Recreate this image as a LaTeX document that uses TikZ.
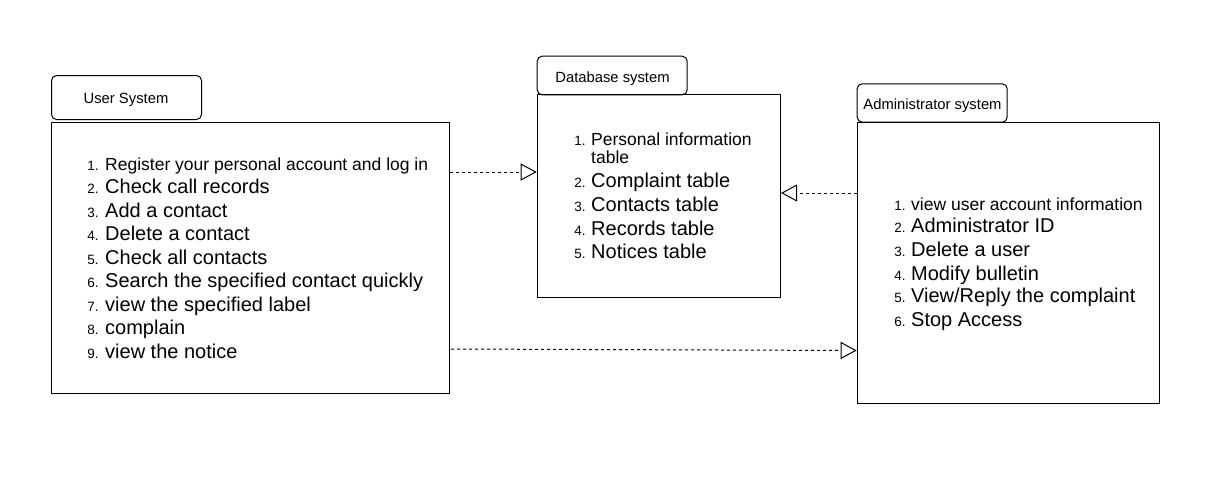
\documentclass[tikz,border=0pt]{standalone}
\usepackage{fontspec}
\setmainfont{Liberation Sans}
\usetikzlibrary{arrows.meta}
\begin{document}
\begin{tikzpicture}[x=1pt,y=-1pt,
 tab/.style={draw, rounded corners=5pt, line width=1pt, inner sep=0pt, anchor=north west},
 box/.style={draw, line width=1pt, inner sep=0pt, anchor=north west},
 ttl/.style={font=\fontsize{14.8}{17}\selectfont, inner sep=0pt, anchor=base},
 num/.style={font=\fontsize{13.5}{15}\selectfont, inner sep=0pt, anchor=base east},
 itm/.style={font=\fontsize{20}{23}\selectfont, inner sep=0pt, anchor=base west},
 itms/.style={font=\fontsize{17.5}{20}\selectfont, inner sep=0pt, anchor=base west},
 dep/.style={line width=1pt, dash pattern=on 3pt off 3pt, -{Triangle[open,length=16pt,width=17pt,line width=1pt]}}
]
\useasboundingbox (0,0) rectangle (1216,485);
\fill[white] (0,0) rectangle (1216,485);

% User system
\node[tab, minimum width=150pt, minimum height=44pt] (utab) at (51,75) {};
\node[box, minimum width=397.7pt, minimum height=271pt] (ubox) at (51,122.3) {};
\node[ttl] (utitle) at (126,103.3) {User System};
\foreach \n/\y/\s/\t in {1/170/itms/{Register your personal account and log in},
  2/193.5/itm/{Check call records}, 3/217/itm/{Add a contact}, 4/240.5/itm/{Delete a contact},
  5/264/itm/{Check all contacts}, 6/287.5/itm/{Search the specified contact quickly},
  7/311/itm/{view the specified label}, 8/334.5/itm/{complain}, 9/358/itm/{view the notice}}{
  \node[num] (un\n) at (98.8,\y) {\n.};
  \node[\s] (ut\n) at (105,\y) {\t};
}

% Database system
\node[tab, minimum width=150pt, minimum height=38.6pt] (dtab) at (536.7,55.7) {};
\node[box, minimum width=243.3pt, minimum height=203pt] (dbox) at (536.7,94.3) {};
\node[ttl] (dtitle) at (612.5,82.3) {Database system};
\node[num] (dn1) at (585.8,145) {1.};
\node[itms] (dt1) at (591,145) {Personal information};
\node[itms] (dt1b) at (591,163.3) {table};
\foreach \n/\y/\t in {2/187.3/{Complaint table}, 3/211.5/{Contacts table}, 4/235/{Records table}, 5/258.5/{Notices table}}{
  \node[num] (dn\n) at (585.8,\y) {\n.};
  \node[itm] (dt\n) at (591,\y) {\t};
}

% Administrator system
\node[tab, minimum width=150pt, minimum height=38.4pt] (atab) at (856.7,83.3) {};
\node[box, minimum width=302.6pt, minimum height=281pt] (abox) at (856.7,122.3) {};
\node[ttl] (atitle) at (932.5,109.3) {Administrator system};
\node[num] (an1) at (905.8,210.7) {1.};
\node[itms] (at1) at (911,210.7) {view user account information};
\foreach \n/\y/\t in {2/232.7/{Administrator ID}, 3/256.7/{Delete a user}, 4/280/{Modify bulletin}, 5/302.7/{View/Reply the complaint}, 6/326.7/{Stop Access}}{
  \node[num] (an\n) at (905.8,\y) {\n.};
  \node[itm] (at\n) at (911,\y) {\t};
}

% connectors
\coordinate (c1) at (ubox.east |- 0,172);
\coordinate (c2) at (abox.west |- 0,193);
\coordinate (c3) at (451,349);
\coordinate (c4) at (abox.west |- 0,350.5);
\draw[dep] (c1) -- (dbox.west |- c1);
\draw[dep] (c2) -- (dbox.east |- c2);
\draw[dep] (c3) -- (c4);
\end{tikzpicture}
\end{document}
